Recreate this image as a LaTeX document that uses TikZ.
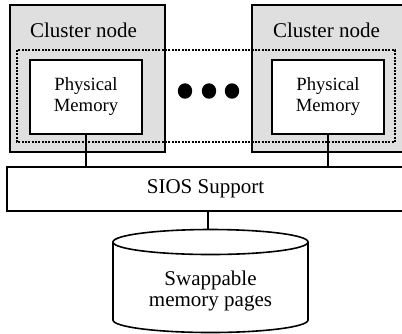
\documentclass[tikz,border=0pt]{standalone}
\usepackage{fontspec}
\setmainfont{Liberation Serif}

\begin{document}
\begin{tikzpicture}[x=0.75pt,y=-0.75pt,line width=1.2pt,
  box/.style={draw,rectangle,inner sep=0pt},
  title/.style={font=\fontsize{15.75}{18}\selectfont,anchor=base},
  memtext/.style={font=\fontsize{14}{15.75}\selectfont,align=center},
  disktext/.style={font=\fontsize{15.75}{15.75}\selectfont,align=center}]
\useasboundingbox (0,0) rectangle (402,333);
% cluster nodes
\node[box,fill=gray!25,minimum width=116.25pt,minimum height=110.25pt] (clL) at (87.5,78.5) {};
\node[box,fill=gray!25,minimum width=114pt,minimum height=110.25pt] (clR) at (328,78.5) {};
\node[title] (tL) at (83.5,37) {Cluster node};
\node[title] (tR) at (326.5,37) {Cluster node};
% shared region
\draw[line width=1.5pt,dash pattern=on 1.5pt off 1pt] (17,50) rectangle (395,142);
% memories
\node[box,fill=white,memtext,minimum width=84pt,minimum height=55.5pt] (pmL) at (86,97) {Physical\\Memory};
\node[box,fill=white,memtext,minimum width=84pt,minimum height=55.5pt] (pmR) at (328,97) {Physical\\Memory};
% dots
\fill (185,91) circle[x radius=5.4pt,y radius=5.8pt];
\fill (209,91) circle[x radius=5.4pt,y radius=5.8pt];
\fill (232,91) circle[x radius=5.4pt,y radius=5.8pt];
% support layer
\node[box,minimum width=297.75pt,minimum height=33pt,font=\fontsize{15.75}{18}\selectfont] (sios) at (205.5,189) {SIOS Support};
\draw (pmL.south) -- (pmL.south |- sios.north);
\draw (pmR.south) -- (pmR.south |- sios.north);
% disk
\draw (113,242) -- (113,320) arc[start angle=180,end angle=360,x radius=73.125pt,y radius=9.375pt] -- (308,242);
\draw (210.5,242) ellipse[x radius=73.125pt,y radius=9.375pt];
\coordinate (disktop) at (208,229.5);
\node[disktext] (disk) at (210.5,291) {Swappable\\memory pages};
\draw (disktop |- sios.south) -- (disktop);
\end{tikzpicture}
\end{document}
